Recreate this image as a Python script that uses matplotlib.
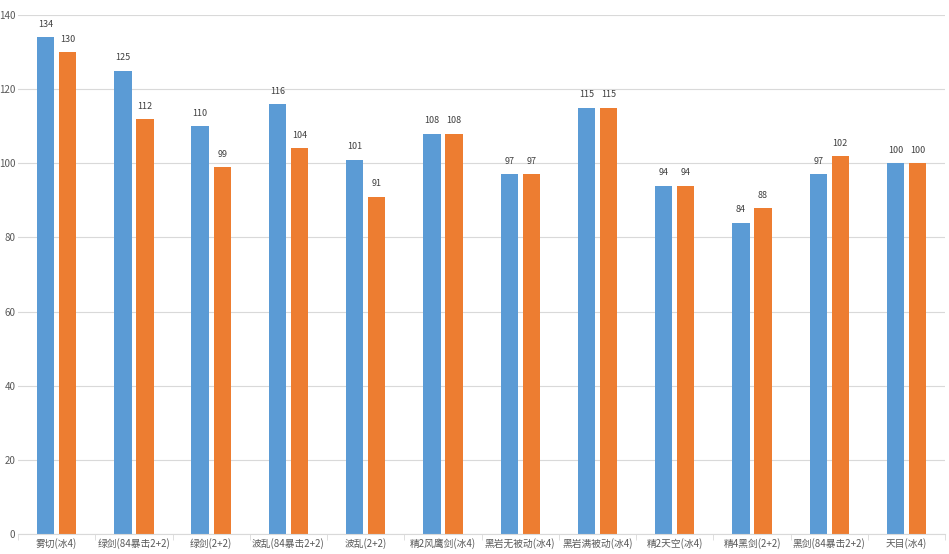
import numpy as np
import matplotlib.pyplot as plt

plt.rcParams['font.family'] = ['Noto Sans CJK SC', 'DejaVu Sans']

categories = ['雾切(冰4)', '绿剑(84暴击2+2)', '绿剑(2+2)', '波乱(84暴击2+2)', '波乱(2+2)',
              '精2风鹰剑(冰4)', '黑岩无被动(冰4)', '黑岩满被动(冰4)', '精2天空(冰4)',
              '精4黑剑(2+2)', '黑剑(84暴击2+2)', '天目(冰4)']
series_a = [134, 125, 110, 116, 101, 108, 97, 115, 94, 84, 97, 100]
series_b = [130, 112, 99, 104, 91, 108, 97, 115, 94, 88, 102, 100]

fig = plt.figure(figsize=(9.49, 5.54), dpi=100)
ax = fig.add_axes([0.019, 0.036, 0.977, 0.937])

x = np.arange(len(categories))
w = 0.225
b1 = ax.bar(x - w / 2 - 0.03, series_a, w, color='#5b9bd5')
b2 = ax.bar(x + w / 2 + 0.03, series_b, w, color='#ed7d31')
for bars in (b1, b2):
    for r in bars:
        ax.text(r.get_x() + r.get_width() / 2, r.get_height() + 2.2, f'{int(r.get_height())}',
                ha='center', va='bottom', fontsize=6.5, color='#404040')

ax.set_xlim(-0.5, len(categories) - 0.5)
ax.set_ylim(0, 140)
ax.set_yticks(range(0, 141, 20))
ax.yaxis.grid(True, color='#d9d9d9', linewidth=0.8)
ax.set_axisbelow(True)
for s in ['top', 'right', 'left']:
    ax.spines[s].set_visible(False)
ax.spines['bottom'].set_color('#d9d9d9')
ax.set_xticks(x)
ax.set_xticklabels(categories, fontsize=7, color='#595959')
ax.set_xticks(np.arange(-0.5, len(categories), 1), minor=True)
ax.tick_params(axis='x', which='major', length=0, pad=3)
ax.tick_params(axis='x', which='minor', length=4, color='#d9d9d9')
ax.tick_params(axis='y', length=0, labelsize=7, labelcolor='#595959', pad=2)

fig.savefig('out.png', dpi=100)
